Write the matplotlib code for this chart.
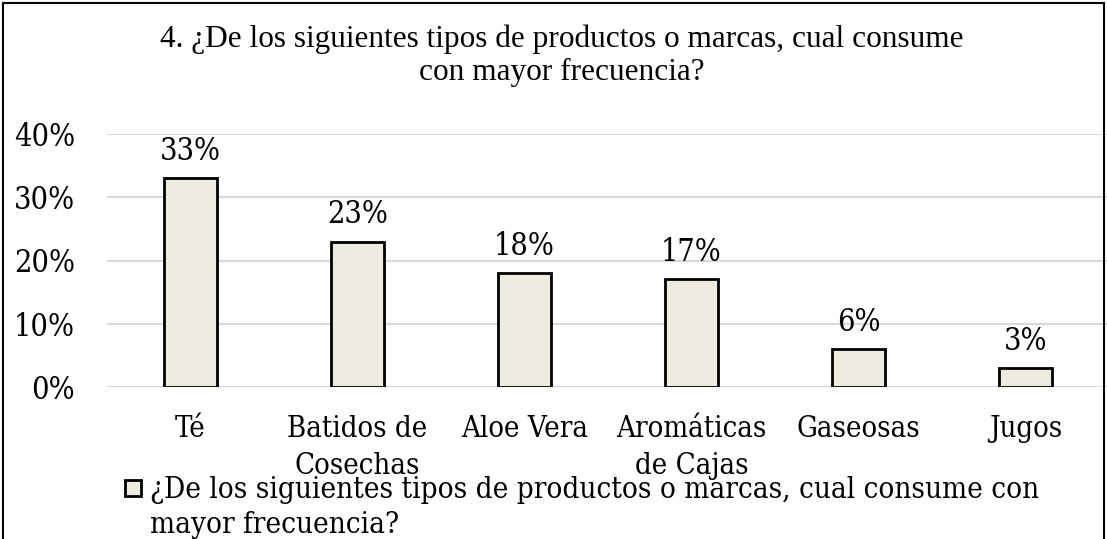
import matplotlib
matplotlib.use("Agg")
import matplotlib.pyplot as plt
from matplotlib.patches import Rectangle

categories = ["Té", "Batidos de\nCosechas", "Aloe Vera", "Aromáticas\nde Cajas", "Gaseosas", "Jugos"]
values = [33, 23, 18, 17, 6, 3]
title_lines = ["4. ¿De los siguientes tipos de productos o marcas, cual consume",
               "con mayor frecuencia?"]
legend_lines = ["¿De los siguientes tipos de productos o marcas, cual consume con",
                "mayor frecuencia?"]

W, H = 1107, 539
fig = plt.figure(figsize=(W / 100, H / 100), dpi=100)
fig.patch.set_facecolor("white")

serif2 = ["DejaVu Serif"]
serif1 = ["Liberation Serif"]
cond = dict(family=serif2, stretch="condensed")

ax = fig.add_axes([107 / W, 1 - 387 / H, (1109 - 107) / W, (387 - 134) / H])
x = list(range(len(categories)))
ax.bar(x, values, width=0.32, color="#EEECE1", edgecolor="black", linewidth=2, zorder=3)
ax.set_xlim(-0.5, len(categories) - 0.5)
ax.set_ylim(0, 40)
ax.set_yticks([0, 10, 20, 30, 40])
ax.grid(axis="y", color="#D9D9D9", linewidth=1.5, zorder=0)
for s in ax.spines.values():
    s.set_visible(False)
ax.tick_params(axis="both", length=0)
ax.tick_params(axis="y", pad=23)
ax.tick_params(axis="x", pad=20)
ax.set_xticks(x)
ax.set_xticklabels(categories, fontsize=21, linespacing=1.4, va="top", **cond)
ax.set_yticklabels([f"{v}%" for v in [0, 10, 20, 30, 40]], fontsize=22, **cond)
for xi, v in zip(x, values):
    ax.annotate(f"{v}%", (xi, v), xytext=(0, 8), textcoords="offset points",
                ha="center", va="bottom", fontsize=22, **cond)

fig.text(562 / W, 1 - 47 / H, title_lines[0], ha="center", va="baseline", fontsize=22.5, family=serif1)
fig.text(562 / W, 1 - 80 / H, title_lines[1], ha="center", va="baseline", fontsize=22.5, family=serif1)

# legend
fig.patches.append(Rectangle((125 / W, 1 - 496 / H), 16 / W, 16 / H, transform=fig.transFigure,
                             facecolor="#EEECE1", edgecolor="black", linewidth=2))
fig.text(150 / W, 1 - 498 / H, legend_lines[0], ha="left", va="baseline", fontsize=21.2, **cond)
fig.text(150 / W, 1 - 533 / H, legend_lines[1], ha="left", va="baseline", fontsize=21.2, **cond)

# outer border (left, top, right)
fig.add_artist(plt.Line2D([3 / W, 3 / W], [0, 1 - 3 / H], transform=fig.transFigure, color="black", linewidth=1.5))
fig.add_artist(plt.Line2D([3 / W, 1104 / W], [1 - 3 / H, 1 - 3 / H], transform=fig.transFigure, color="black", linewidth=1.5))
fig.add_artist(plt.Line2D([1104 / W, 1104 / W], [0, 1 - 3 / H], transform=fig.transFigure, color="black", linewidth=1.5))

fig.savefig("out.png", dpi=100)
